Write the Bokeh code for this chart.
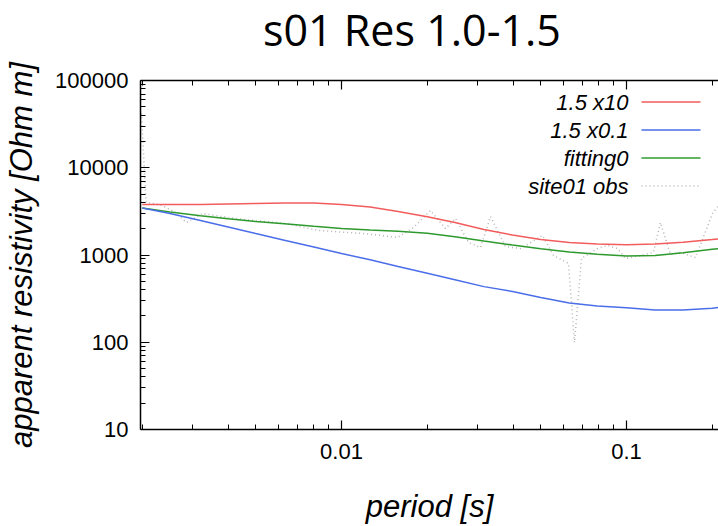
import numpy as np
from bokeh.plotting import figure
from bokeh.layouts import column
from bokeh.models import LogAxis, Label, FixedTicker, CustomJSTickFormatter, Div
from bokeh.embed import file_html
from bokeh.resources import INLINE

# ---------------- data ----------------
title_text = "s01 Res 1.0-1.5"
series_names = ["1.5 x10", "1.5 x0.1", "fitting0", "site01 obs"]

periods = [0.002, 0.0025, 0.0032, 0.004, 0.005, 0.0063, 0.008, 0.01, 0.0126, 0.0158,
           0.02, 0.025, 0.0316, 0.0398, 0.05, 0.063, 0.079, 0.1, 0.126, 0.158, 0.2, 0.22]
res_x10 = [3790, 3790, 3790, 3840, 3890, 3945, 3945, 3790, 3550, 3150,
           2740, 2360, 1960, 1695, 1505, 1390, 1337, 1309, 1334, 1398, 1505, 1554]
res_x01 = [3457, 2989, 2480, 2088, 1759, 1477, 1232, 1040, 881, 738,
           617, 520, 434, 382, 326, 282, 260, 248, 234, 234, 246, 254]
res_fit = [3457, 3111, 2814, 2599, 2421, 2284, 2133, 2012, 1934, 1869,
           1774, 1621, 1447, 1302, 1181, 1082, 1019, 974, 987, 1060, 1162, 1203]

obs_periods = [0.001987, 0.002061, 0.002189, 0.002355, 0.002616, 0.002858, 0.003025, 0.003253,
               0.004246, 0.006362, 0.008304, 0.01194, 0.01572, 0.01789, 0.02052, 0.02317,
               0.02512, 0.0279, 0.03074, 0.03333, 0.03762, 0.04247, 0.05074, 0.05545,
               0.06258, 0.06569, 0.06952, 0.0791, 0.08579, 0.09299, 0.09919, 0.112,
               0.1243, 0.1316, 0.1427, 0.1547, 0.1746, 0.2003, 0.2172]
obs_res = [41900, 4000, 3890, 3690, 3070, 2355, 2618, 2990,
           2618, 2295, 1909, 1763, 1588, 2065, 3236, 2012,
           2618, 1390, 1218, 2760, 1250, 1186, 1672, 986,
           800, 99, 912, 1186, 1285, 1186, 912, 986,
           1070, 2355, 1014, 1070, 935, 2990, 4217]

x_ticks = [0.01, 0.1]
x_minor = [0.002, 0.003, 0.004, 0.005, 0.006, 0.007, 0.008, 0.009,
           0.02, 0.03, 0.04, 0.05, 0.06, 0.07, 0.08, 0.09, 0.2]
y_ticks = [10, 100, 1000, 10000, 100000]
y_minor = [m * d for d in (10, 100, 1000, 10000) for m in range(2, 10)]

# ---------------- layout / style ----------------
X_RANGE = (0.001971, 0.2103)
Y_RANGE = (10, 100000)
TITLE_H = 60                    # height of the title strip
FL, FW, FH = 140, 578, 349      # frame geometry in px
FT = 20                         # frame top inside the figure
FIG_H = 526 - TITLE_H

colors = ["#f25c5c", "#4a6ee8", "#2e9a2e", "#b4b4b4"]
FONT = "Liberation Sans"

title = Div(
    text=('<div style="position:absolute; left:263px; top:0px; '
          'font-family:\'Open Sans\'; font-size:43px; line-height:normal; '
          'color:black; white-space:nowrap;">' + title_text + '</div>'),
    width=718, height=TITLE_H, margin=0)

p = figure(width=718, height=FIG_H, x_axis_type="log", y_axis_type="log",
           x_range=X_RANGE, y_range=Y_RANGE, output_backend="svg",
           toolbar_location=None, min_border_left=FL, min_border_right=0,
           min_border_top=FT, min_border_bottom=FIG_H - FT - FH, margin=0)
p.outline_line_color = None
p.xgrid.visible = False
p.ygrid.visible = False
p.background_fill_color = "white"
p.border_fill_color = "white"

fmt = CustomJSTickFormatter(code="return tick.toString();")
blank = CustomJSTickFormatter(code="return '';")
xt = FixedTicker(ticks=x_ticks, minor_ticks=x_minor)
yt = FixedTicker(ticks=y_ticks, minor_ticks=y_minor)


def style_axis(ax, labels=True):
    ax.axis_line_color = "black"
    ax.axis_line_width = 1.5
    ax.major_tick_line_color = "black"
    ax.minor_tick_line_color = "black"
    ax.major_tick_line_width = 1.2
    ax.minor_tick_line_width = 1.0
    ax.major_tick_in = 9
    ax.major_tick_out = 0
    ax.minor_tick_in = 5
    ax.minor_tick_out = 0
    ax.major_label_text_font = FONT
    ax.major_label_text_color = "black"
    if labels:
        ax.major_label_text_font_size = "22px"
        ax.major_label_standoff = 12
    else:
        ax.major_label_text_font_size = "1px"
        ax.major_label_standoff = 0
    ax.axis_label_text_font = FONT
    ax.axis_label_text_font_style = "italic"
    ax.axis_label_text_color = "black"


p.xaxis.ticker = xt
p.yaxis.ticker = yt
p.xaxis.formatter = fmt
p.yaxis.formatter = fmt
for ax in p.xaxis + p.yaxis:
    style_axis(ax)
p.xaxis.axis_label = "period [s]"
p.yaxis.axis_label = "apparent resistivity [Ohm m]"
p.xaxis.axis_label_text_font_size = "31px"
p.yaxis.axis_label_text_font_size = "31px"
p.xaxis.major_label_standoff = 14
p.xaxis.axis_label_standoff = 27
p.xaxis.axis_label_text_line_height = 0.8
p.yaxis.axis_label_standoff = 13

top = LogAxis(ticker=xt, formatter=blank)
style_axis(top, labels=False)
p.add_layout(top, "above")

# ---------------- curves ----------------
p.line(obs_periods, obs_res, line_color=colors[3], line_width=1.5, line_dash="1 3")
p.line(periods, res_fit, line_color=colors[2], line_width=1.5)
p.line(periods, res_x01, line_color=colors[1], line_width=1.5)
p.line(periods, res_x10, line_color=colors[0], line_width=1.5)

# ---------------- legend (gnuplot style: text right, sample on right) ----------------
lx0, lx1 = np.log10(X_RANGE)
ly0, ly1 = np.log10(Y_RANGE)
PAGE_FT = TITLE_H + FT


def sx(px):
    return 10 ** (lx0 + (px - FL) / FW * (lx1 - lx0))


def sy(py):
    return 10 ** (ly1 - (py - PAGE_FT) / FH * (ly1 - ly0))


rows = [101.5, 129.5, 157.5, 185.5]
for name, col, row in zip(series_names, colors, rows):
    p.add_layout(Label(x=sx(628), y=sy(row), text=name, text_align="right",
                       text_baseline="middle", text_font=FONT,
                       text_font_style="italic", text_font_size="22px",
                       text_color="black"))
    dash = "1 3" if name == "site01 obs" else "solid"
    p.line([sx(641), sx(700)], [sy(row), sy(row)], line_color=col,
           line_width=1.5, line_dash=dash)

layout = column(title, p, spacing=0, margin=0)
open("out.html", "w").write(file_html(layout, INLINE))
